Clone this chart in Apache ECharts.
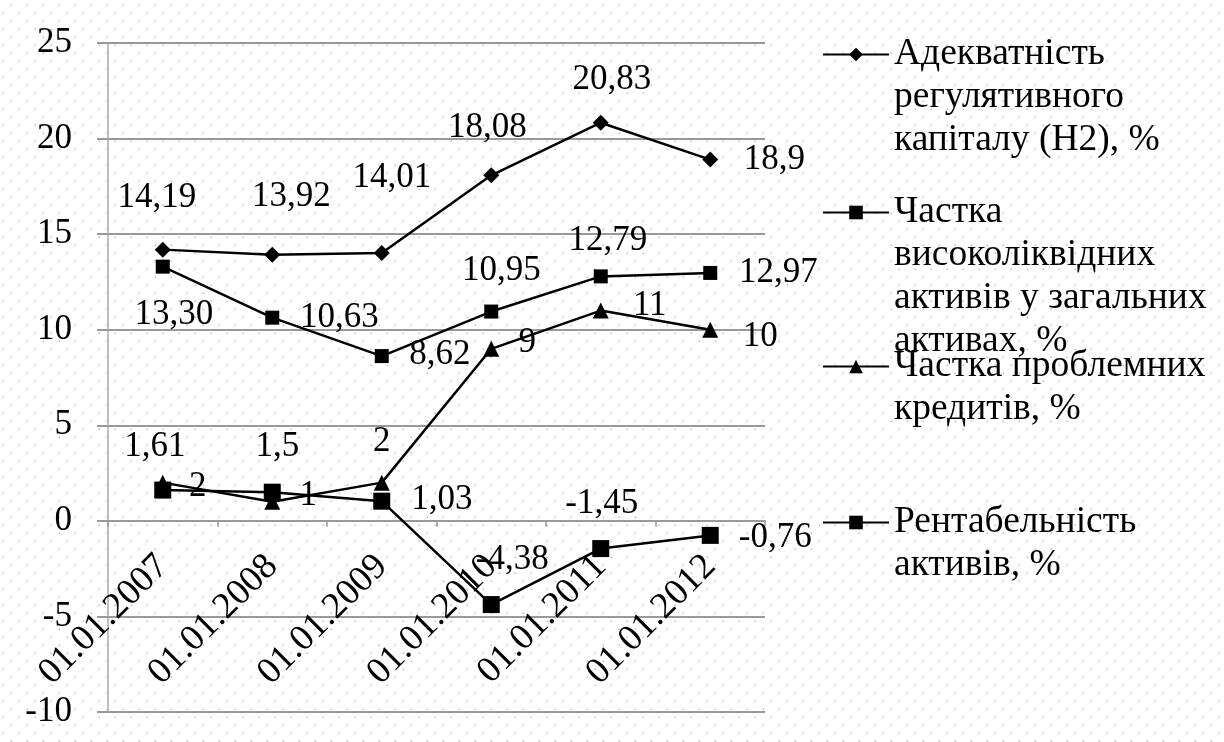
<!DOCTYPE html>
<html>
<head>
<meta charset="utf-8">
<script src="https://cdn.jsdelivr.net/npm/echarts@6/dist/echarts.min.js"></script>
<style>
  html, body { margin: 0; padding: 0; background: #fff; }
  #chart {
    width: 1224px;
    height: 742px;
    background-color: #fff;
    background-image: url("data:image/svg+xml,%3Csvg xmlns='http://www.w3.org/2000/svg' width='16' height='16'%3E%3Crect x='10.5' y='4.5' width='1.6' height='1.6' fill='%23c4c4c4'/%3E%3Crect x='2.5' y='12.5' width='1.6' height='1.6' fill='%23c4c4c4'/%3E%3C/svg%3E");
    background-repeat: repeat;
  }
</style>
</head>
<body>
<div id="chart"></div>
<script>
// Dates of the observations
const categories = ['01.01.2007', '01.01.2008', '01.01.2009', '01.01.2010', '01.01.2011', '01.01.2012'];

// Indicator values, %
const capitalAdequacy = [14.19, 13.92, 14.01, 18.08, 20.83, 18.9];
const liquidAssetsShare = [13.30, 10.63, 8.62, 10.95, 12.79, 12.97];
const problemLoansShare = [2, 1, 2, 9, 11, 10];
const returnOnAssets = [1.61, 1.5, 1.03, -4.38, -1.45, -0.76];

// Series names as shown in the legend (wrapped)
const seriesNames = [
  'Адекватність\nрегулятивного\nкапіталу (Н2), %',
  'Частка\nвисоколіквідних\nактивів у загальних\nактивах, %',
  'Частка проблемних\nкредитів, %',
  'Рентабельність\nактивів, %'
];

// Value axis range
const yMin = -10;
const yMax = 25;
const yStep = 5;

// Plot area box (px)
const GRID = { left: 108, right: 459, top: 43, bottom: 30 };
const CHART_H = 742;
const plotHeight = CHART_H - GRID.top - GRID.bottom;
// the category axis sits on the zero line
const zeroShift = -plotHeight * (0 - yMin) / (yMax - yMin);

// Data label placement (offset of the label centre from the marker, px)
const labelOffsets = [
  [[-6, -52], [19, -58], [10, -75], [-4, -47], [11, -43], [64, 0]],
  [[11, 48], [67, 0], [58, -1], [10, -41], [7, -36], [68, 0]],
  [[35, 4], [36, -6], [0, -41], [36, -6], [49, -5], [50, 7]],
  [[-8, -43], [5, -45], [60, -1], [21, -45], [1, -45], [65, 2]]
];

const FONT = "'Liberation Serif', 'Times New Roman', serif";
const commaNum = (v, digits) => (digits == null ? String(v) : v.toFixed(digits)).replace('.', ',');

function makeSeries(idx, values, symbol, symbolSize, digits) {
  return {
    name: seriesNames[idx],
    type: 'line',
    data: values.map((v, i) => ({ value: v, label: { offset: labelOffsets[idx][i] } })),
    symbol: symbol,
    symbolSize: symbolSize,
    showAllSymbol: true,
    lineStyle: { color: '#000', width: 2.5 },
    itemStyle: { color: '#000' },
    label: {
      show: true,
      position: 'inside',
      color: '#000',
      fontFamily: FONT,
      fontSize: 35,
      formatter: p => commaNum(p.value, digits)
    },
    emphasis: { disabled: true },
    animation: false,
    z: 2 + idx
  };
}

// One legend block per series; leading filler lines keep the marker level with the first text line
function makeLegend(idx, top) {
  const lines = seriesNames[idx].split('\n').length;
  const filler = '\u00a0\n'.repeat(lines - 1);
  return {
    data: [seriesNames[idx]],
    orient: 'vertical',
    left: 822,
    top: top,
    padding: 0,
    itemWidth: 66,
    itemHeight: 17,
    selectedMode: false,
    formatter: name => filler + name,
    textStyle: {
      color: '#000',
      fontFamily: FONT,
      fontSize: 37.5,
      lineHeight: 43
    }
  };
}

const chart = echarts.init(document.getElementById('chart'), null, { renderer: 'canvas' });

chart.setOption({
  backgroundColor: 'transparent',
  animation: false,
  grid: {
    left: GRID.left, right: GRID.right, top: GRID.top, bottom: GRID.bottom,
    containLabel: false,
    outerBoundsMode: 'none'
  },
  legend: [
    makeLegend(0, -53),
    makeLegend(1, 62),
    makeLegend(2, 302),
    makeLegend(3, 458)
  ],
  xAxis: {
    type: 'category',
    data: categories,
    boundaryGap: true,
    offset: zeroShift,
    axisLine: { onZero: false, lineStyle: { color: '#999', width: 2 } },
    axisTick: { show: true, length: 6, lineStyle: { color: '#999', width: 1.5 } },
    axisLabel: {
      interval: 0,
      rotate: 45,
      margin: 40,
      color: '#000',
      fontFamily: FONT,
      fontSize: 37
    },
    splitLine: { show: false }
  },
  yAxis: {
    type: 'value',
    min: yMin,
    max: yMax,
    interval: yStep,
    axisLine: { show: true, lineStyle: { color: '#aaa', width: 1.5 } },
    axisTick: { show: true, length: 11, lineStyle: { color: '#999', width: 2 } },
    axisLabel: {
      margin: 36,
      color: '#000',
      fontFamily: FONT,
      fontSize: 35
    },
    splitLine: { show: true, lineStyle: { color: '#999', width: 2 } }
  },
  series: [
    makeSeries(0, capitalAdequacy, 'diamond', 16, null),
    makeSeries(1, liquidAssetsShare, 'rect', 14, 2),
    makeSeries(2, problemLoansShare, 'triangle', 16, null),
    makeSeries(3, returnOnAssets, 'rect', 17, null)
  ]
});
</script>
</body>
</html>
